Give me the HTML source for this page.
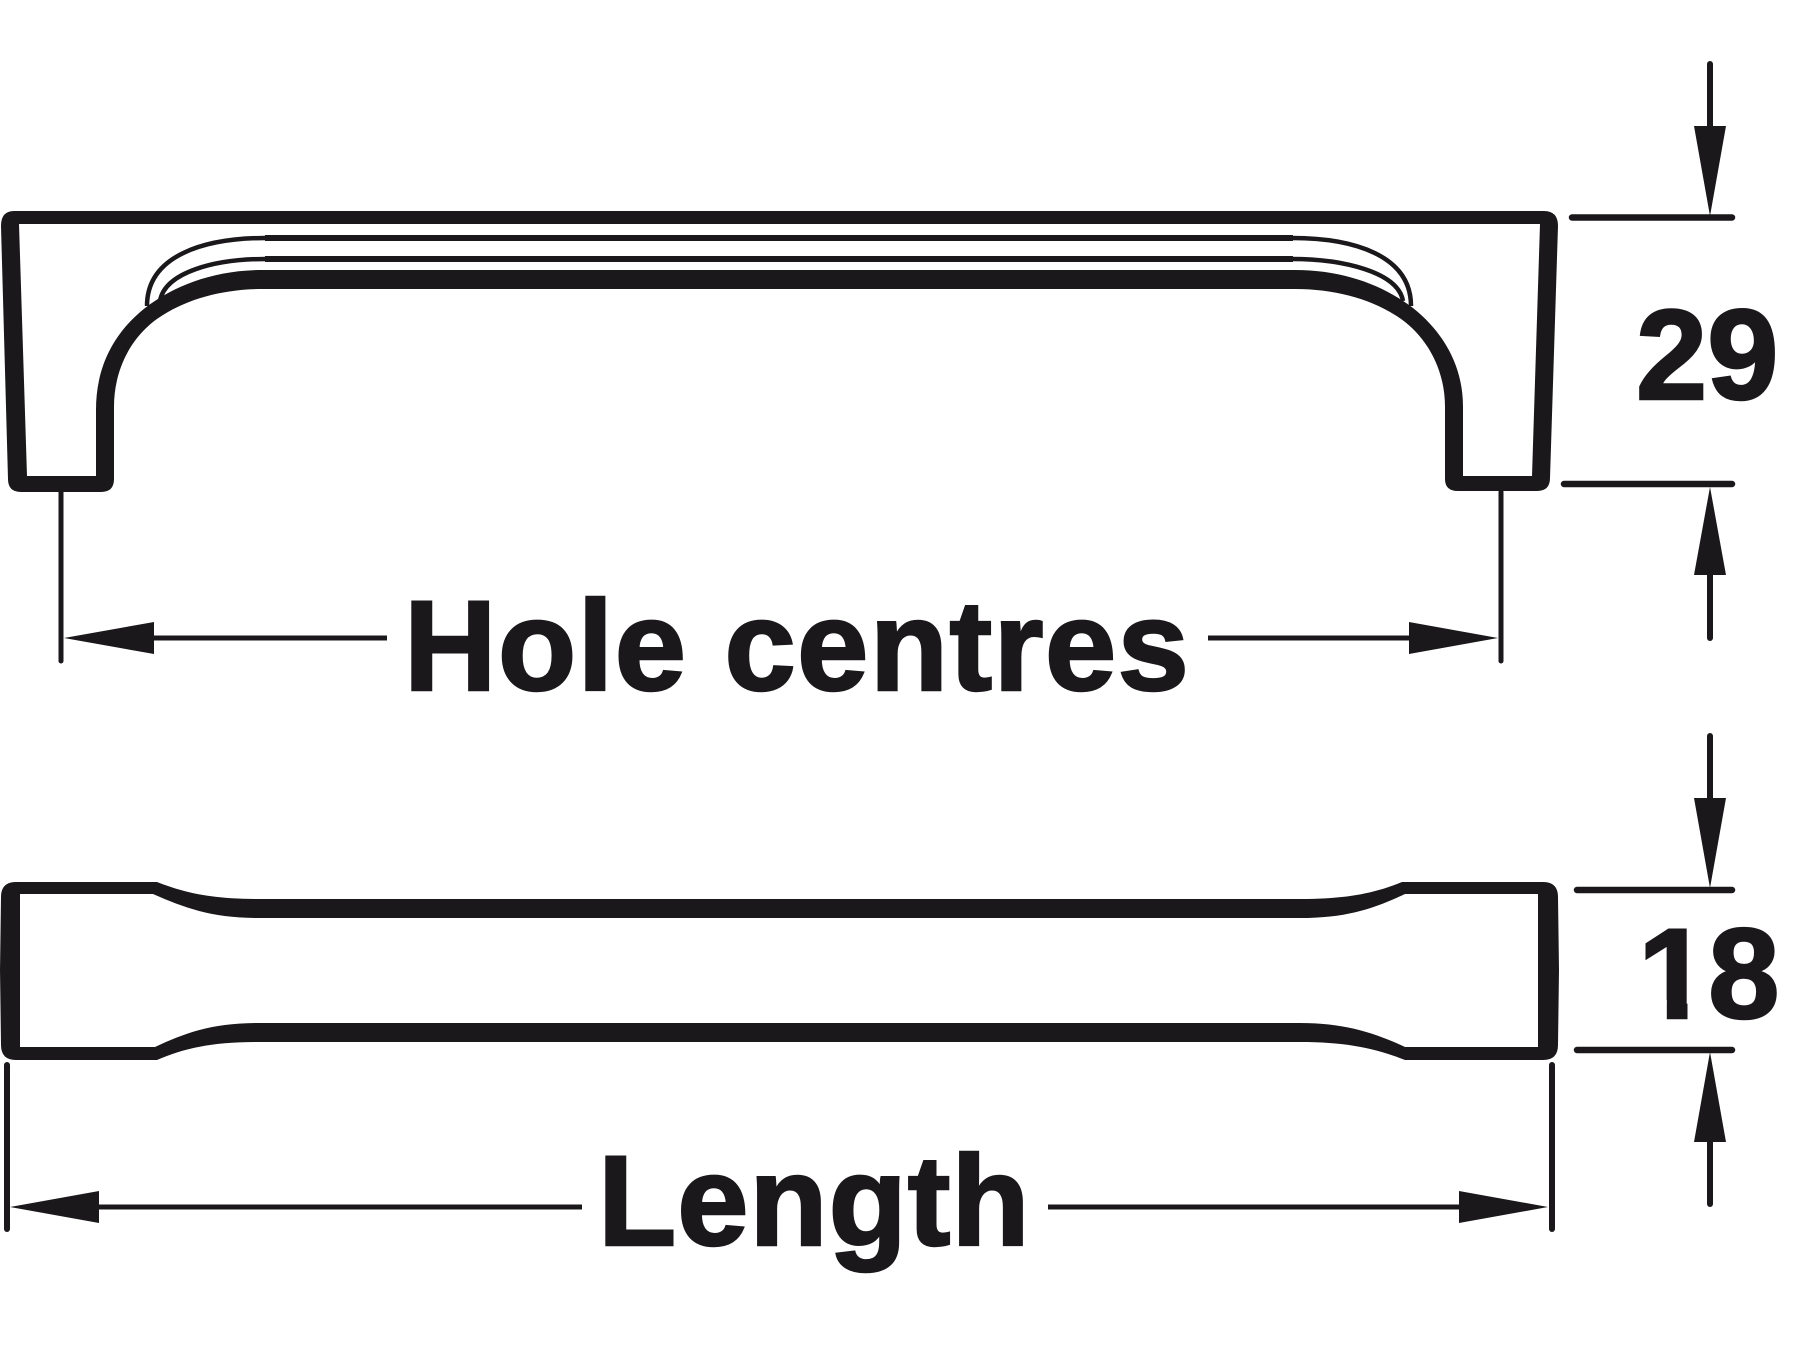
<!DOCTYPE html>
<html lang="en">
<head>
<meta charset="utf-8">
<title>Handle dimensions</title>
<style>
html,body{margin:0;padding:0;background:#fff;width:1800px;height:1350px;overflow:hidden}
svg{display:block}
text{font-family:"Liberation Sans",Arial,sans-serif;font-weight:700;font-size:128px;fill:#1a181a;stroke:#1a181a;stroke-width:2.500px;stroke-linejoin:miter}
</style>
</head>
<body>
<svg width="1800" height="1350" viewBox="0 0 1800 1350" xmlns="http://www.w3.org/2000/svg">
<rect width="1800" height="1350" fill="#fff"/>

<!-- Top handle -->
<path fill="#1a181a" d="M14 211 L1544 211 Q1558 211 1558 226 L1550 478 Q1550 491 1537 491 L1458 491 Q1445 491 1445 479 L1445 407 C1445 365 1423 332 1395 315 C1368 298 1333 289 1295 289 L263 289 C225 289 190 298 163 315 C135 332 114 365 114 407 L114 479 Q114 492 101 492 L21 492 Q8 492 8 479 L1 226 Q1 211 14 211 Z"/>
<path fill="#fff" d="M19 224 L1540 224 L1532 476 L1463 476 L1463 407 C1463 365 1443 332 1413 308 C1383 285 1343 270 1295 270 L263 270 C215 270 175 285 145 308 C115 332 96 365 96 410 L96 476 L27 476 Z"/>
<g fill="none" stroke="#1a181a" stroke-linecap="butt">
<path stroke-width="6" d="M265 238 L1293 238"/>
<path stroke-width="6" d="M265 259 L1293 259"/>
<path stroke-width="4.500" d="M266 238 C205 238 147 255 147 306"/>
<path stroke-width="4.500" d="M266 259 C215 259 165 272 160 301"/>
<path stroke-width="4.500" d="M1292 238 C1353 238 1411 255 1411 306"/>
<path stroke-width="4.500" d="M1292 259 C1343 259 1398 272 1403 301"/>
</g>

<!-- Bottom handle -->
<path fill="#1a181a" d="M16 882 L157 882 C185 893 212 899 258 899 L1300 899 C1348 899 1375 893 1402 882 L1543 882 Q1558 882 1558 897 L1559 970 L1558 1045 Q1558 1060 1543 1060 L1405 1060 C1375 1048 1345 1042 1300 1042 L258 1042 C212 1042 185 1048 157 1060 L16 1060 Q1 1060 1 1045 L0 970 L1 897 Q1 882 16 882 Z"/>
<path fill="#fff" d="M20 894 L153 894 C185 908 212 918 258 918 L1300 918 C1348 918 1375 908 1405 894 L1538 894 L1538 1047 L1405 1047 C1375 1033 1345 1023 1300 1023 L258 1023 C212 1023 185 1033 155 1047 L20 1047 Z"/>

<!-- Dimension lines -->
<g fill="none" stroke="#1a181a" stroke-linecap="round">
<path stroke-width="6.500" d="M1572 217.500 L1732 217.500"/>
<path stroke-width="6.500" d="M1564 484 L1732 484"/>
<path stroke-width="6.500" d="M1577 890 L1732 890"/>
<path stroke-width="6.500" d="M1577 1050 L1732 1050"/>
<path stroke-width="6" d="M1710 64 L1710 130"/>
<path stroke-width="6" d="M1710 570 L1710 638"/>
<path stroke-width="6" d="M1710 736 L1710 800"/>
<path stroke-width="6" d="M1710 1140 L1710 1204"/>
<path stroke-width="5" d="M61 492 L61 661"/>
<path stroke-width="5" d="M1501 492 L1501 661"/>
<path stroke-width="6" d="M7 1065 L7 1229"/>
<path stroke-width="6" d="M1552 1065 L1552 1229"/>
</g>
<g fill="none" stroke="#1a181a" stroke-width="5">
<path d="M150 638 L387 638"/>
<path d="M1208 638 L1412 638"/>
<path d="M95 1207 L582 1207"/>
<path d="M1048 1207 L1462 1207"/>
</g>

<!-- Arrowheads -->
<g fill="#1a181a">
<path d="M1694 126 L1726 126 L1710 216 Z"/>
<path d="M1694 575 L1726 575 L1710 487 Z"/>
<path d="M1694 798 L1726 798 L1710 888 Z"/>
<path d="M1694 1142 L1726 1142 L1710 1052 Z"/>
<path d="M154 622 L154 654 L64 638 Z"/>
<path d="M1409 622 L1409 654 L1498 638 Z"/>
<path d="M99 1191 L99 1223 L10 1207 Z"/>
<path d="M1459 1191 L1459 1223 L1548 1207 Z"/>
</g>

<!-- Labels -->
<text x="404" y="690" letter-spacing="1.500">Hole centres</text>
<text x="598" y="1245" letter-spacing="1">Length</text>
<text x="1636" y="399" letter-spacing="0">29</text>
<text x="1638" y="1018" letter-spacing="-1">18</text>
<!-- Hide only the foot of the real "1" glyph -->
<rect x="1638" y="1000" width="28.800" height="24" fill="#fff"/>
<rect x="1687.500" y="1000" width="19.500" height="24" fill="#fff"/>
</svg>
</body>
</html>
